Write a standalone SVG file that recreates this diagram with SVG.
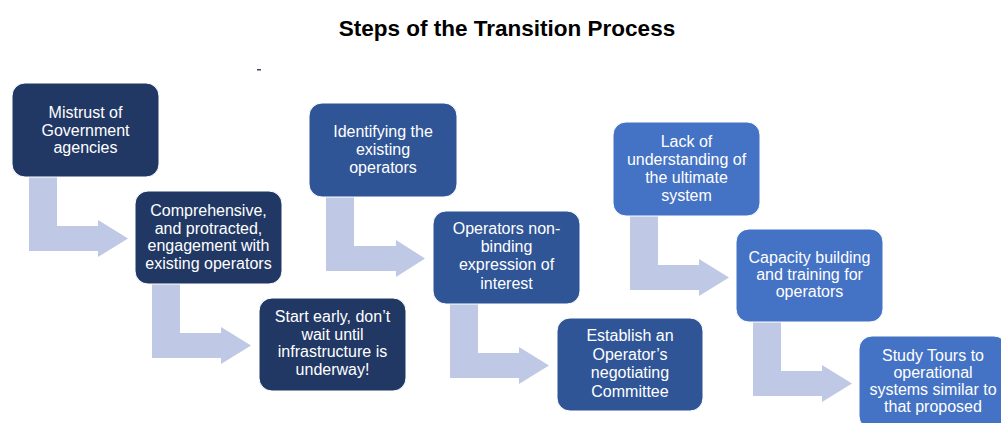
<svg xmlns="http://www.w3.org/2000/svg" width="1001" height="423" viewBox="0 0 1001 423">
<style>
.title{font-family:"Liberation Sans",Arial,sans-serif;font-weight:bold;font-size:22.5px;fill:#000;text-anchor:middle}
.lbl{font-family:"Liberation Sans",Arial,sans-serif;font-size:16px;fill:#fff;text-anchor:middle}
.c1{fill:#213865;stroke:#ffffff;stroke-width:1}
.c2{fill:#2F5597;stroke:#ffffff;stroke-width:1}
.c3{fill:#4472C4;stroke:#ffffff;stroke-width:1}
.arr{fill:#BFC8E4}
</style>
<rect width="1001" height="423" fill="#ffffff"/>
<text class="title" x="507" y="36">Steps of the Transition Process</text>
<rect x="257" y="69" width="4" height="1.5" fill="#3a4a66"/>
<g id="connectors">
<path class="arr" d="M29,177 H57 V226 H98 V220 L128,238.5 L98,257 V251 H29 Z"/>
<path class="arr" d="M152,284 H180 V333 H221 V327 L251,345.5 L221,364 V358 H152 Z"/>
<path class="arr" d="M326,197 H354 V246 H396 V240 L425,258.5 L396,277 V271 H326 Z"/>
<path class="arr" d="M450,304 H478 V353 H519 V347 L549,365.5 L519,384 V378 H450 Z"/>
<path class="arr" d="M630,216 H658 V265 H699 V259 L729,277.5 L699,296 V290 H630 Z"/>
<path class="arr" d="M753,322 H781 V371 H822 V365 L852,383.5 L822,402 V396 H753 Z"/>
</g>
<g id="n1"><rect class="c1" x="12" y="83" width="147" height="94" rx="13"/>
<text class="lbl" x="85.5" y="118">Mistrust of<tspan x="85.5" dy="17.5">Government</tspan><tspan x="85.5" dy="17.5">agencies</tspan></text></g>
<g id="n2"><rect class="c1" x="135" y="191" width="147" height="93" rx="13"/>
<text class="lbl" x="208.5" y="216">Comprehensive,<tspan x="208.5" dy="17.7">and protracted,</tspan><tspan x="208.5" dy="17.7">engagement with</tspan><tspan x="208.5" dy="17.7">existing operators</tspan></text></g>
<g id="n3"><rect class="c1" x="259" y="298" width="147" height="93" rx="13"/>
<text class="lbl" x="332.5" y="322">Start early, don’t<tspan x="332.5" dy="17.7">wait until</tspan><tspan x="332.5" dy="17.7">infrastructure is</tspan><tspan x="332.5" dy="17.7">underway!</tspan></text></g>
<g id="n4"><rect class="c2" x="309" y="103" width="148" height="94" rx="13"/>
<text class="lbl" x="383" y="137">Identifying the<tspan x="383" dy="17.8">existing</tspan><tspan x="383" dy="17.8">operators</tspan></text></g>
<g id="n5"><rect class="c2" x="433" y="211" width="147" height="93" rx="13"/>
<text class="lbl" x="506.5" y="234">Operators non-<tspan x="506.5" dy="18.2">binding</tspan><tspan x="506.5" dy="18.2">expression of</tspan><tspan x="506.5" dy="18.2">interest</tspan></text></g>
<g id="n6"><rect class="c2" x="557" y="318" width="146" height="93" rx="13"/>
<text class="lbl" x="630" y="341">Establish an<tspan x="630" dy="18.5">Operator’s</tspan><tspan x="630" dy="18.5">negotiating</tspan><tspan x="630" dy="18.5">Committee</tspan></text></g>
<g id="n7"><rect class="c3" x="613" y="122" width="147" height="94" rx="13"/>
<text class="lbl" x="686.5" y="147">Lack of<tspan x="686.5" dy="18">understanding of</tspan><tspan x="686.5" dy="18">the ultimate</tspan><tspan x="686.5" dy="18">system</tspan></text></g>
<g id="n8"><rect class="c3" x="736" y="229" width="147" height="93" rx="13"/>
<text class="lbl" x="809.5" y="263">Capacity building<tspan x="809.5" dy="17">and training for</tspan><tspan x="809.5" dy="17">operators</tspan></text></g>
<g id="n9"><rect class="c3" x="859" y="336" width="148" height="93" rx="13"/>
<text class="lbl" x="933" y="361">Study Tours to<tspan x="933" dy="17">operational</tspan><tspan x="933" dy="17">systems similar to</tspan><tspan x="933" dy="17">that proposed</tspan></text></g>
</svg>
